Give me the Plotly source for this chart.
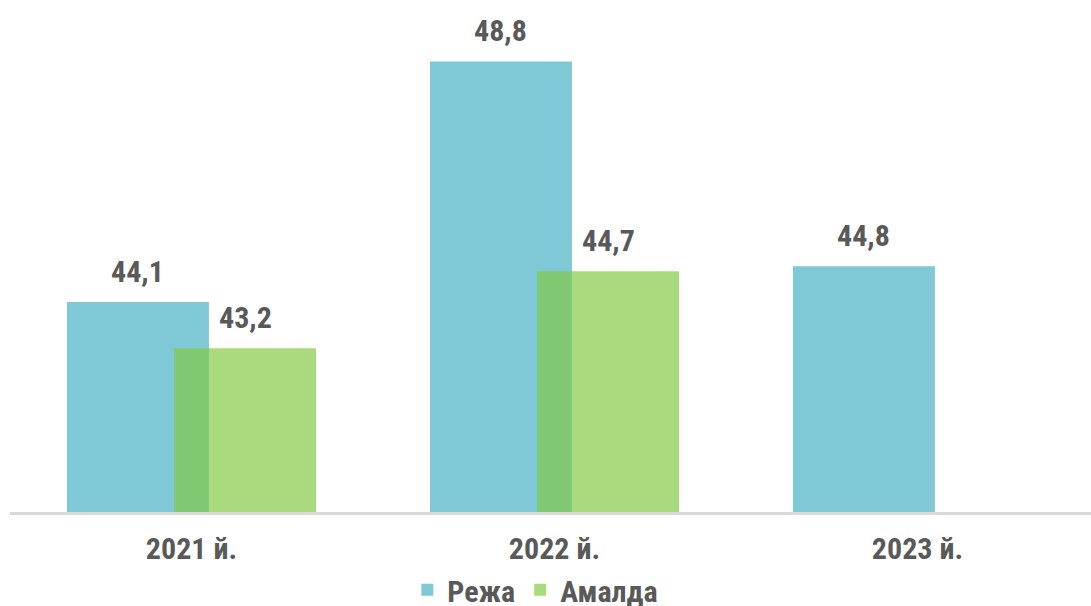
import plotly.graph_objects as go

categories = ["2021 й.", "2022 й.", "2023 й."]
plan_values = [44.1, 48.8, 44.8]          # Режа
actual_values = [43.2, 44.7, None]        # Амалда
series_names = ["Режа", "Амалда"]

FONT = "Liberation Sans Narrow, Arial Narrow, Roboto Condensed, Liberation Sans, sans-serif"
TXT = "#595959"
BLUE = "rgb(127,200,214)"
GREEN = "rgba(128,200,65,0.68)"

BAR_W = 0.391
OFF_BLUE = -0.343
OFF_GREEN = -0.048

fig = go.Figure()
fig.add_trace(go.Bar(
    x=categories, y=plan_values, name=series_names[0],
    marker=dict(color=BLUE, line=dict(width=0)),
    width=BAR_W, offset=OFF_BLUE, hoverinfo="skip",
))
fig.add_trace(go.Bar(
    x=categories, y=actual_values, name=series_names[1],
    marker=dict(color=GREEN, line=dict(width=0)),
    width=BAR_W, offset=OFF_GREEN, hoverinfo="skip",
))

def fmt(v):
    return f"{v:.1f}".replace(".", ",")

annotations = []
for vals, off in ((plan_values, OFF_BLUE), (actual_values, OFF_GREEN)):
    for i, v in enumerate(vals):
        if v is None:
            continue
        annotations.append(dict(
            x=i + off + BAR_W / 2, y=v, xref="x", yref="y",
            text=fmt(v), showarrow=False, yanchor="bottom", xanchor="center",
            yshift=11, font=dict(family=FONT, size=30, color=TXT, weight="bold"),
        ))

fig.update_layout(
    width=1091, height=606,
    barmode="overlay",
    plot_bgcolor="white", paper_bgcolor="white",
    margin=dict(l=10, r=0, t=0, b=94, autoexpand=False),
    font=dict(family=FONT, size=30, color=TXT),
    xaxis=dict(
        type="category", range=[-0.5, 2.478],
        showline=True, linecolor="#D9D9D9", linewidth=3,
        showgrid=False, zeroline=False, ticks="",
        ticklabelstandoff=8,
        tickfont=dict(family=FONT, size=30, color=TXT, weight="bold"),
    ),
    yaxis=dict(range=[40, 50], visible=False, showgrid=False, zeroline=False),
    legend=dict(
        orientation="h", xref="paper", yref="paper",
        x=0.486, xanchor="center", y=-0.152, yanchor="middle",
        font=dict(family=FONT, size=30, color=TXT, weight="bold"),
        bgcolor="rgba(0,0,0,0)",
    ),
    annotations=annotations,
)

fig.write_html(
    "out.html",
    config={"displayModeBar": False, "staticPlot": True},
    post_script="document.body.style.margin='0';document.body.style.overflow='hidden';",
)
